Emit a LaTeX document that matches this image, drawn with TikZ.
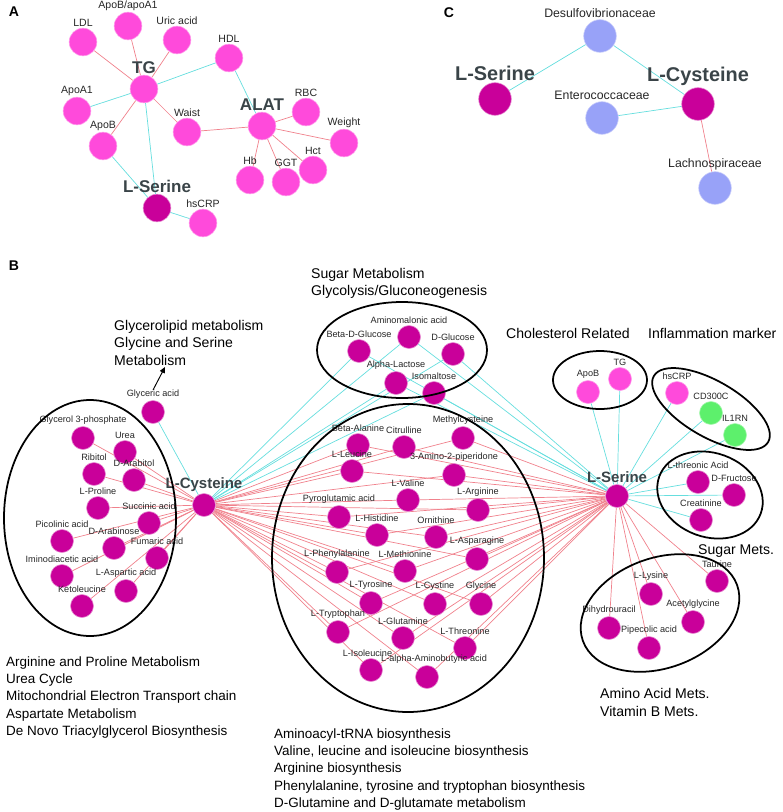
\documentclass[tikz,border=0pt]{standalone}
\usepackage{fontspec}
\setmainfont{Liberation Sans}
\usetikzlibrary{arrows.meta, backgrounds}
\definecolor{NodePink}{HTML}{FF4ADB}
\definecolor{NodeMagenta}{HTML}{C9009A}
\definecolor{NodeLavender}{HTML}{98A2F8}
\definecolor{NodeGreen}{HTML}{5DF06C}
\definecolor{EdgeCyan}{HTML}{66DEDE}
\definecolor{EdgeRed}{HTML}{F0818C}
\definecolor{HubText}{HTML}{3A4448}
\tikzset{
  basenode/.style={circle, inner sep=0pt, line width=0.5pt},
  met/.style={basenode, minimum size=0.69cm, fill=NodeMagenta, draw=NodeMagenta!45!white},
  metpink/.style={met, fill=NodePink, draw=NodePink!55!white},
  metgreen/.style={met, fill=NodeGreen, draw=NodeGreen!55!white},
  clin/.style={basenode, minimum size=0.83cm, fill=NodePink, draw=NodePink!55!white},
  clinhub/.style={clin, fill=NodeMagenta, draw=NodeMagenta!45!white},
  taxon/.style={basenode, minimum size=0.98cm, fill=NodeLavender, draw=NodeLavender!50!white},
  taxhub/.style={taxon, fill=NodeMagenta, draw=NodeMagenta!45!white},
  lab/.style={font=\fontsize{7.8}{9}\selectfont, inner sep=0pt, text=black!85},
  labA/.style={lab, font=\fontsize{9}{10}\selectfont},
  labC/.style={lab, font=\fontsize{10.5}{12}\selectfont},
  hubA/.style={inner sep=0pt, text=HubText, font=\fontsize{14.5}{16}\selectfont\bfseries},
  hubB/.style={hubA, font=\fontsize{12.8}{14}\selectfont\bfseries},
  hubC/.style={hubA, font=\fontsize{17}{19}\selectfont\bfseries},
  panel/.style={font=\fontsize{12}{14}\selectfont\bfseries, inner sep=0pt},
  pathtext/.style={font=\fontsize{12}{15}\selectfont, align=left, anchor=north west, inner sep=0pt},
  pathsmall/.style={pathtext, font=\fontsize{11.5}{14.9}\selectfont},
  posedge/.style={EdgeRed, line width=0.6pt},
  negedge/.style={EdgeCyan, line width=0.6pt},
  group/.style={draw=black, line width=1.5pt},
  pointer/.style={-{Triangle[length=5pt,width=4.5pt]}, line width=0.8pt}
}

\begin{document}
\begin{tikzpicture}[x=0.03cm, y=-0.03cm, label distance=1pt]
  \useasboundingbox (0,0) rectangle (782,812);

  % Panel A
  \node[panel] (pA) at (14,12) {A};
  \node[clin, label={[labA]above:LDL}] (ldl) at (83,42) {};
  \node[clin, label={[labA]above:ApoB/apoA1}] (apobapoa) at (128,26) {};
  \node[clin, label={[labA]above:Uric acid}] (uric) at (177,40) {};
  \node[clin, label={[labA]above:HDL}] (hdl) at (229,58) {};
  \node[clin, label={[hubA]above:TG}] (tgA) at (144,89) {};
  \node[clin, label={[labA]above:ApoA1}] (apoa1) at (77,111) {};
  \node[clin, label={[labA]above:Waist}] (waist) at (187,132) {};
  \node[clin, label={[labA]above:ApoB}] (apobA) at (103,146) {};
  \node[clin, label={[hubA]above:ALAT}] (alat) at (262,126) {};
  \node[clin, label={[labA]above:RBC}] (rbc) at (306,112) {};
  \node[clin, label={[labA]above:Weight}] (weight) at (344,143) {};
  \node[clin, label={[labA]above:Hb}] (hb) at (250,180) {};
  \node[clin, label={[labA]above:GGT}] (ggt) at (286,182) {};
  \node[clin, label={[labA]above:Hct}] (hct) at (313,170) {};
  \node[clinhub, label={[hubA]above:L-Serine}] (serA) at (157,208) {};
  \node[clin, label={[labA]above:hsCRP}] (hscrpA) at (203,223) {};

  % Panel C
  \node[panel] (pC) at (449,13) {C};
  \node[taxon, label={[labC]above:Desulfovibrionaceae}] (desulfo) at (600,36) {};
  \node[taxhub, label={[hubC]above:L-Serine}] (serC) at (495,99) {};
  \node[taxhub, label={[hubC]above:L-Cysteine}] (cysC) at (698,104) {};
  \node[taxon, label={[labC]above:Enterococcaceae}] (entero) at (602,118) {};
  \node[taxon, label={[labC]above:Lachnospiraceae}] (lachno) at (715,188) {};

  % Panel B, left group
  \node[panel] (pB) at (14,266) {B};
  \node[met, label={[lab,name=glyclab]above:Glyceric acid}] (glyc) at (153,412) {};
  \node[met, label={[lab]above:Glycerol 3-phosphate}] (g3p) at (83,438) {};
  \node[met, label={[lab]above:Urea}] (urea) at (125,452) {};
  \node[met, label={[lab]above:Ribitol}] (ribitol) at (94,474) {};
  \node[met, label={[lab]above:D-Arabitol}] (darabitol) at (134,480) {};
  \node[met, label={[lab]above:L-Proline}] (lpro) at (98,508) {};
  \node[met, label={[lab]above:Succinic acid}] (succ) at (149,523) {};
  \node[met, label={[lab]above:Picolinic acid}] (picol) at (62,541) {};
  \node[met, label={[lab]above:D-Arabinose}] (darabinose) at (114,548) {};
  \node[met, label={[lab]above:Fumaric acid}] (fumar) at (157,558) {};
  \node[met, label={[lab]above:Iminodiacetic acid}] (imino) at (62,576) {};
  \node[met, label={[lab]above:L-Aspartic acid}] (lasp) at (126,591) {};
  \node[met, label={[lab]above:Ketoleucine}] (ketoleu) at (82,606) {};
  \node[met, label={[hubB]above:L-Cysteine}] (cysB) at (204,505) {};

  % sugar group
  \node[met, label={[lab]above:Aminomalonic acid}] (amalon) at (409,337) {};
  \node[met, label={[lab]above:Beta-D-Glucose}] (bglc) at (359,351) {};
  \node[met, label={[lab]above:D-Glucose}] (dglc) at (453,354) {};
  \node[met, label={[lab]above:Alpha-Lactose}] (alac) at (396,383) {};
  \node[met, label={[lab]above:Isomaltose}] (isomal) at (434,393) {};

  % amino acid group
  \node[met, label={[lab]above:Beta-Alanine}] (bala) at (358,445) {};
  \node[met, label={[lab]above:Citrulline}] (citr) at (404,447) {};
  \node[met, label={[lab]above:Methylcysteine}] (mcys) at (463,438) {};
  \node[met, label={[lab]above:L-Leucine}] (lleu) at (352,471) {};
  \node[met, label={[lab]above:3-Amino-2-piperidone}] (amp) at (454,475) {};
  \node[met, label={[lab]above:L-Valine}] (lval) at (408,500) {};
  \node[met, label={[lab]above:L-Arginine}] (larg) at (478,510) {};
  \node[met, label={[lab]above:Pyroglutamic acid}] (pyro) at (339,517) {};
  \node[met, label={[lab]above:L-Histidine}] (lhis) at (377,535) {};
  \node[met, label={[lab]above:Ornithine}] (orn) at (436,537) {};
  \node[met, label={[lab]above:L-Asparagine}] (lasn) at (477,559) {};
  \node[met, label={[lab]above:L-Phenylalanine}] (lphe) at (337,572) {};
  \node[met, label={[lab]above:L-Methionine}] (lmet) at (405,571) {};
  \node[met, label={[lab]above:L-Tyrosine}] (ltyr) at (371,603) {};
  \node[met, label={[lab]above:L-Cystine}] (lcyst) at (435,604) {};
  \node[met, label={[lab]above:Glycine}] (gly) at (481,604) {};
  \node[met, label={[lab]above:L-Tryptophan}] (ltrp) at (338,632) {};
  \node[met, label={[lab]above:L-Glutamine}] (lgln) at (403,638) {};
  \node[met, label={[lab]above:L-Threonine}] (lthr) at (465,648) {};
  \node[met, label={[lab, xshift=-3pt]above:L-Isoleucine}] (lile) at (371,670) {};
  \node[met, label={[lab, xshift=6pt]above:L-alpha-Aminobutyric acid}] (aaba) at (427,677) {};

  % right side
  \node[met, label={[hubB]above:L-Serine}] (serB) at (617,496) {};
  \node[metpink, label={[lab]above:ApoB}] (apobR) at (588,392) {};
  \node[metpink, label={[lab]above:TG}] (tgR) at (620,379) {};
  \node[metpink, label={[lab]above:hsCRP}] (hscrpR) at (677,393) {};
  \node[metgreen, label={[lab]above:CD300C}] (cd300c) at (711,413) {};
  \node[metgreen, label={[lab]above:IL1RN}] (il1rn) at (735,435) {};
  \node[met, label={[lab]above:L-threonic Acid}] (lthreo) at (698,482) {};
  \node[met, label={[lab]above:D-Fructose}] (dfru) at (734,495) {};
  \node[met, label={[lab]above:Creatinine}] (creat) at (701,520) {};
  \node[met, label={[lab]above:Taurine}] (taur) at (717,581) {};
  \node[met, label={[lab]above:L-Lysine}] (llys) at (651,594) {};
  \node[met, label={[lab]above:Acetylglycine}] (acgly) at (693,622) {};
  \node[met, label={[lab]above:Dihydrouracil}] (dhu) at (609,628) {};
  \node[met, label={[lab]above:Pipecolic acid}] (pipe) at (649,648) {};

  % Edges
  \begin{scope}[on background layer]
    \foreach \n in {ldl,apobapoa,uric,waist,apobA} \draw[posedge] (tgA) -- (\n);
    \foreach \n in {hdl,apoa1,serA} \draw[negedge] (tgA) -- (\n);
    \foreach \n in {waist,rbc,weight,hb,ggt,hct} \draw[posedge] (alat) -- (\n);
    \draw[negedge] (hdl) -- (alat);
    \draw[negedge] (apobA) -- (serA);
    \draw[negedge] (serA) -- (hscrpA);
    \draw[negedge] (desulfo) -- (serC);
    \draw[negedge] (desulfo) -- (cysC);
    \draw[negedge] (entero) -- (cysC);
    \draw[posedge] (cysC) -- (lachno);
    \foreach \n in {g3p,urea,ribitol,darabitol,lpro,succ,picol,darabinose,fumar,imino,lasp,ketoleu}
      \draw[posedge] (cysB) -- (\n);
    \foreach \n in {glyc,amalon,bglc,dglc,alac,isomal} \draw[negedge] (cysB) -- (\n);
    \foreach \n in {bala,citr,mcys,lleu,amp,lval,larg,pyro,lhis,orn,lasn,lphe,lmet,ltyr,lcyst,gly,ltrp,lgln,lthr,lile,aaba} {
      \draw[posedge] (cysB) -- (\n);
      \draw[posedge] (serB) -- (\n);
    }
    \foreach \n in {amalon,bglc,dglc,alac,isomal,apobR,tgR,hscrpR,cd300c,il1rn,lthreo,dfru,creat}
      \draw[negedge] (serB) -- (\n);
    \foreach \n in {taur,llys,acgly,dhu,pipe} \draw[posedge] (serB) -- (\n);
  \end{scope}

  % Groups
  \draw[group] (90,518) ellipse [x radius=86, y radius=118];
  \draw[group] (402,350) ellipse [x radius=85, y radius=48];
  \draw[group] (408,558) ellipse [x radius=136, y radius=154];
  \draw[group] (600,380) ellipse [x radius=47, y radius=29];
  \draw[group, rotate around={-30:(711,409)}] (711,409) ellipse [x radius=66, y radius=28];
  \draw[group, rotate around={-20:(710,495)}] (710,495) ellipse [x radius=54, y radius=42];
  \draw[group, rotate around={20:(660,613)}] (660,613) ellipse [x radius=82, y radius=55];

  % Pathway texts
  \node[pathtext] (glytext) at (114,320) {Glycerolipid metabolism\\Glycine and Serine\\Metabolism};
  \coordinate (glytip) at (165,367);
  \draw[pointer] (glyclab.north) -- (glytip);
  \node[pathtext] (sugartext) at (311,268) {Sugar Metabolism\\Glycolysis/Gluconeogenesis};
  \node[pathtext] (choltext) at (506,328) {Cholesterol Related};
  \node[pathtext] (inftext) at (648,328) {Inflammation marker};
  \node[pathtext] (sugmets) at (698,544) {Sugar Mets.};
  \node[pathtext] (aamets) at (600,688) {Amino Acid Mets.\\Vitamin B Mets.};
  \node[pathsmall] (leftpath) at (6,656) {Arginine and Proline Metabolism\\Urea Cycle\\Mitochondrial Electron Transport chain\\Aspartate Metabolism\\De Novo Triacylglycerol Biosynthesis};
  \node[pathsmall] (midpath) at (274,728) {Aminoacyl-tRNA biosynthesis\\Valine, leucine and isoleucine biosynthesis\\Arginine biosynthesis\\Phenylalanine, tyrosine and tryptophan biosynthesis\\D-Glutamine and D-glutamate metabolism};
\end{tikzpicture}
\end{document}
